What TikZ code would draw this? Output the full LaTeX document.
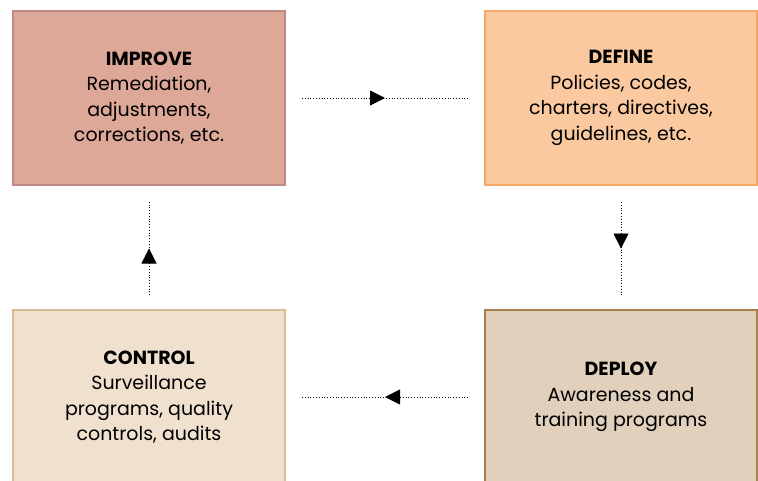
\documentclass[tikz,border=0pt]{standalone}
\usepackage{fontspec}
\setmainfont{Poppins}
\usetikzlibrary{arrows.meta,decorations.markings}
\definecolor{impfill}{RGB}{221,168,152}
\definecolor{impdraw}{RGB}{192,136,134}
\definecolor{deffill}{RGB}{250,201,160}
\definecolor{defdraw}{RGB}{245,165,100}
\definecolor{ctlfill}{RGB}{240,224,206}
\definecolor{ctldraw}{RGB}{218,188,148}
\definecolor{depfill}{RGB}{224,208,188}
\definecolor{depdraw}{RGB}{168,128,80}
\tikzset{
  box/.style={rectangle, line width=2pt, minimum width=272pt, minimum height=174pt, align=center, font=\fontsize{19}{25.5}\selectfont, inner sep=0pt},
  flow/.style={dotted, line width=0.8pt, postaction={decorate}, decoration={markings, mark=at position 0.5 with {\arrow{Triangle[length=15pt,width=15pt]}}}}
}
\begin{document}
\begin{tikzpicture}[x=1pt,y=-1pt]
\useasboundingbox (0,0) rectangle (758,480);
\node[box, fill=impfill, draw=impdraw] (improve) at (149,98) {\textbf{IMPROVE}\\Remediation,\\adjustments,\\corrections, etc.};
\node[box, fill=deffill, draw=defdraw] (define) at (621,98) {\textbf{DEFINE}\\Policies, codes,\\charters, directives,\\guidelines, etc.};
\node[box, fill=ctlfill, draw=ctldraw] (control) at (149,397) {\textbf{CONTROL}\\Surveillance\\programs, quality\\controls, audits};
\node[box, fill=depfill, draw=depdraw] (deploy) at (621,397) {\textbf{DEPLOY}\\Awareness and\\training programs};
\coordinate (a1) at ([xshift=16pt]improve.east);
\coordinate (a2) at ([xshift=-16pt]define.west);
\draw[flow] (a1) -- (a2);
\coordinate (b1) at ([yshift=-16pt]define.south);
\coordinate (b2) at ([yshift=14pt]deploy.north);
\draw[flow] (b1) -- (b2);
\coordinate (c1) at ([xshift=-16pt]deploy.west);
\coordinate (c2) at ([xshift=16pt]control.east);
\draw[flow] (c1) -- (c2);
\coordinate (d1) at ([yshift=14pt]control.north);
\coordinate (d2) at ([yshift=-16pt]improve.south);
\draw[flow] (d1) -- (d2);
\end{tikzpicture}
\end{document}
